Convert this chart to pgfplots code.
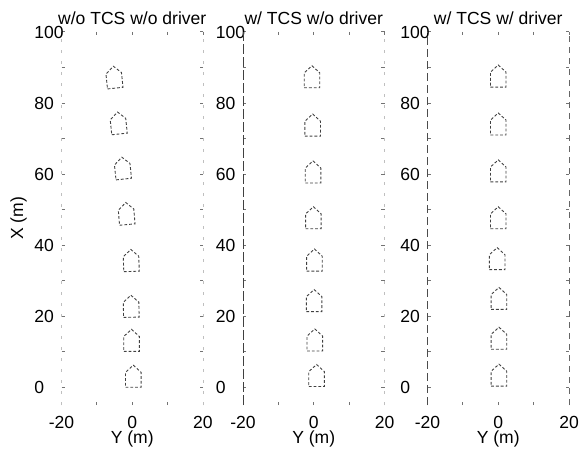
\documentclass[border=0pt]{standalone}
\usepackage{fontspec}
\setmainfont{Liberation Sans}
\usepackage{pgfplots}
\pgfplotsset{compat=1.18}

\pgfplotsset{
  car/.style={black!75, line width=0.45pt, dash pattern=on 1.4pt off 1.0pt, mark=none},
  panel/.style={
    scale only axis, width=70.75bp, height=186.5bp,
    xmin=-20, xmax=20, ymin=-5, ymax=100,
    clip=false,
    xtick={-20,0,20}, xticklabels={-20,0,20}, minor xtick={-10,10},
    ytick={0,20,40,60,80,100}, yticklabels={0,20,40,60,80,100},
    minor ytick={10,30,50,70,90},
    tick align=inside, major tick length=1.6bp, minor tick length=1.6bp,
    every tick/.style={black!55, line width=0.5pt},
    tick label style={font=\fontsize{8.8}{10}\selectfont},
    label style={font=\fontsize{8.8}{10}\selectfont},
    every axis title shift=0pt,
    title style={font=\fontsize{8.8}{10}\selectfont, at={(axis description cs:0.5,1.0214)}, anchor=base, inner sep=0pt},
    xticklabel style={anchor=base, yshift=-11.5bp, inner sep=0pt},
    yticklabel style={anchor=west, xshift=-13.75bp, inner sep=0pt},
    xlabel={Y (m)},
    xlabel style={at={(axis description cs:0.5,-0.1045)}, anchor=base, inner sep=0pt},
    ylabel style={at={(axis description cs:-0.272,0.5)}, anchor=base, inner sep=0pt},
    separate axis lines,
    axis line style={draw=none},
  },
}

\begin{document}
\begin{tikzpicture}
\useasboundingbox (0,0) rectangle (290.5bp,225.5bp);

% ---------- panel 1 ----------
\begin{axis}[panel, at={(30.75bp,23bp)}, anchor=south west,
  title={w/o TCS w/o driver}, ylabel={X (m)}]
\addplot[black!25, line width=0.4pt, dash pattern=on 1.5bp off 4bp] coordinates {(-20,-5) (-20,100)};
\addplot[black!25, line width=0.4pt, dash pattern=on 1.5bp off 4bp] coordinates {(20,-5) (20,100)};
\addplot[car] coordinates {(-1.9,0) (2.5,0) (2.5,4.2) (0.3,6.2) (-1.9,4.2) (-1.9,0)};
\addplot[car] coordinates {(-2.4,10.1) (2.0,10.1) (2.0,14.3) (-0.2,16.3) (-2.4,14.3) (-2.4,10.1)};
\addplot[car] coordinates {(-2.45,19.66) (1.95,19.74) (1.87,23.94) (-0.41,25.92) (-2.53,23.86) (-2.45,19.66)};
\addplot[car] coordinates {(-2.39,32.52) (1.99,32.68) (1.84,36.87) (-0.42,38.80) (-2.54,36.71) (-2.39,32.52)};
\addplot[car] coordinates {(-3.59,45.60) (0.79,46.00) (0.44,50.18) (-1.84,52.00) (-3.94,49.80) (-3.59,45.60)};
\addplot[car] coordinates {(-4.59,58.37) (-0.21,58.83) (-0.65,63.00) (-2.95,64.76) (-5.03,62.55) (-4.59,58.37)};
\addplot[car] coordinates {(-5.79,71.07) (-1.41,71.53) (-1.85,75.70) (-4.15,77.46) (-6.23,75.25) (-5.79,71.07)};
\addplot[car] coordinates {(-6.99,83.97) (-2.61,84.43) (-3.05,88.60) (-5.35,90.36) (-7.43,88.15) (-6.99,83.97)};
\end{axis}

% ---------- panel 2 ----------
\begin{axis}[panel, at={(121.5bp,23bp)}, anchor=south west,
  title={w/ TCS w/o driver}]
\addplot[black!75, line width=0.45pt, dash pattern=on 5bp off 1.5bp] coordinates {(-20,-5) (-20,100)};
\addplot[black!25, line width=0.4pt, dash pattern=on 1.5bp off 4bp] coordinates {(20,-5) (20,100)};
\addplot[car] coordinates {(-1.4,0.2) (3.0,0.2) (3.0,4.4) (0.8,6.4) (-1.4,4.4) (-1.4,0.2)};
\addplot[car] coordinates {(-1.9,10.2) (2.5,10.2) (2.5,14.4) (0.3,16.4) (-1.9,14.4) (-1.9,10.2)};
\addplot[car] coordinates {(-2.1,21.3) (2.3,21.3) (2.3,25.5) (0.1,27.5) (-2.1,25.5) (-2.1,21.3)};
\addplot[car] coordinates {(-2.0,32.7) (2.4,32.7) (2.4,36.9) (0.2,38.9) (-2.0,36.9) (-2.0,32.7)};
\addplot[car] coordinates {(-2.3,44.6) (2.1,44.6) (2.1,48.8) (-0.1,50.8) (-2.3,48.8) (-2.3,44.6)};
\addplot[car] coordinates {(-2.4,57.5) (2.0,57.5) (2.0,61.7) (-0.2,63.7) (-2.4,61.7) (-2.4,57.5)};
\addplot[car] coordinates {(-2.5,70.7) (1.9,70.7) (1.9,74.9) (-0.3,76.9) (-2.5,74.9) (-2.5,70.7)};
\addplot[car] coordinates {(-2.7,84.3) (1.7,84.3) (1.7,88.5) (-0.5,90.5) (-2.7,88.5) (-2.7,84.3)};
\end{axis}

% ---------- panel 3 ----------
\begin{axis}[panel, at={(213.75bp,23bp)}, anchor=south west,
  title={w/ TCS w/ driver}]
\addplot[black!70, line width=0.45pt, dash pattern=on 4bp off 2bp] coordinates {(-20,-5) (-20,100)};
\addplot[black!60, line width=0.45pt, dash pattern=on 3bp off 2.5bp] coordinates {(20,-5) (20,100)};
\addplot[car] coordinates {(-2.0,0.3) (2.4,0.3) (2.4,4.5) (0.2,6.5) (-2.0,4.5) (-2.0,0.3)};
\addplot[car] coordinates {(-2.0,10.7) (2.4,10.7) (2.4,14.9) (0.2,16.9) (-2.0,14.9) (-2.0,10.7)};
\addplot[car] coordinates {(-2.0,21.9) (2.4,21.9) (2.4,26.1) (0.2,28.1) (-2.0,26.1) (-2.0,21.9)};
\addplot[car] coordinates {(-2.5,33.1) (1.9,33.1) (1.9,37.3) (-0.3,39.3) (-2.5,37.3) (-2.5,33.1)};
\addplot[car] coordinates {(-2.2,44.6) (2.2,44.6) (2.2,48.8) (0,50.8) (-2.2,48.8) (-2.2,44.6)};
\addplot[car] coordinates {(-2.2,57.8) (2.2,57.8) (2.2,62.0) (0,64.0) (-2.2,62.0) (-2.2,57.8)};
\addplot[car] coordinates {(-2.2,71.0) (2.2,71.0) (2.2,75.2) (0,77.2) (-2.2,75.2) (-2.2,71.0)};
\addplot[car] coordinates {(-2.2,84.5) (2.2,84.5) (2.2,88.7) (0,90.7) (-2.2,88.7) (-2.2,84.5)};
\end{axis}
\end{tikzpicture}
\end{document}
